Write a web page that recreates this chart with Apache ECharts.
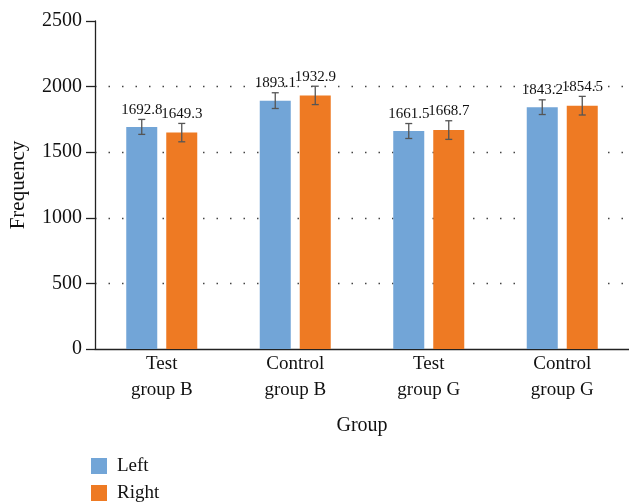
<!DOCTYPE html>
<html>
<head>
<meta charset="utf-8">
<script src="https://cdn.jsdelivr.net/npm/echarts@6/dist/echarts.min.js"></script>
<style>html,body{margin:0;padding:0;background:#fff}#c{width:629px;height:502px}</style>
</head>
<body>
<div id="c"></div>
<script>
const categories = ['Test\ngroup B', 'Control\ngroup B', 'Test\ngroup G', 'Control\ngroup G'];
const leftValues = [1692.8, 1893.1, 1661.5, 1843.2];
const rightValues = [1649.3, 1932.9, 1668.7, 1854.5];
const leftErr = [57, 60, 57, 56];
const rightErr = [70, 70, 71, 71];
const yTicks = [0, 500, 1000, 1500, 2000, 2500];

const FONT = 'Liberation Serif';
const BAR_W = 31;
const GAP = 9;
const BLUE = '#72a5d7';
const ORANGE = '#ee7a23';

function errSeries(values, errs, side) {
  return {
    type: 'custom',
    z: 10,
    clip: false,
    data: values.map((v, i) => [i, v, errs[i]]),
    renderItem: function (params, api) {
      const i = api.value(0), v = api.value(1), e = api.value(2);
      const c = api.coord([i, v]);
      const off = side * (BAR_W / 2 + GAP / 2);
      const x = c[0] + off;
      const yTop = api.coord([i, v + e])[1];
      const yBot = api.coord([i, v - e])[1];
      const cap = 3.5;
      const st = { stroke: '#555', lineWidth: 1.3 };
      return {
        type: 'group',
        children: [
          { type: 'line', shape: { x1: x, y1: yTop, x2: x, y2: yBot }, style: st },
          { type: 'line', shape: { x1: x - cap, y1: yTop, x2: x + cap, y2: yTop }, style: st },
          { type: 'line', shape: { x1: x - cap, y1: yBot, x2: x + cap, y2: yBot }, style: st },
          { type: 'text', style: { x: x, y: yTop - 2, text: v.toFixed(1), fill: '#111', font: '15px "' + FONT + '"', align: 'center', verticalAlign: 'bottom' } }
        ]
      };
    }
  };
}

const chart = echarts.init(document.getElementById('c'), null, { renderer: 'canvas' });
chart.setOption({
  animation: false,
  textStyle: { fontFamily: FONT },
  grid: { left: 92, right: -11, top: 21, bottom: 153, containLabel: false },
  legend: {
    data: ['Left', 'Right'],
    orient: 'vertical',
    left: 91, top: 455,
    height: 100,
    icon: 'rect', itemWidth: 16, itemHeight: 16, itemGap: 5,
    textStyle: { fontFamily: FONT, fontSize: 19, lineHeight: 22, color: '#111', padding: [0, 0, 0, 5] },
    padding: 0
  },
  xAxis: {
    type: 'category',
    data: categories,
    name: 'Group',
    nameLocation: 'middle',
    nameGap: 67,
    nameTextStyle: { fontFamily: FONT, fontSize: 20, color: '#111' },
    axisLine: { lineStyle: { color: '#222', width: 1.3 } },
    axisTick: { show: false },
    axisLabel: { fontFamily: FONT, fontSize: 19, color: '#111', lineHeight: 26, margin: 2 },
    splitLine: { show: false }
  },
  yAxis: {
    type: 'value',
    min: yTicks[0], max: yTicks[yTicks.length - 1], interval: 500,
    name: 'Frequency',
    nameLocation: 'middle',
    nameGap: 66,
    nameTextStyle: { fontFamily: FONT, fontSize: 21, color: '#111' },
    axisLine: { show: true, lineStyle: { color: '#222', width: 1.3 } },
    axisTick: { show: true, length: 9, lineStyle: { color: '#222', width: 1.3 } },
    axisLabel: { fontFamily: FONT, fontSize: 20, color: '#111', margin: 13, formatter: function (v) { return String(v); } },
    splitLine: { show: true, showMinLine: false, showMaxLine: false, lineStyle: { color: '#444', type: [1.5, 12], width: 1.3 } }
  },
  series: [
    { name: 'Left', type: 'bar', data: leftValues, barWidth: BAR_W, barGap: (GAP / BAR_W * 100) + '%', itemStyle: { color: BLUE } },
    { name: 'Right', type: 'bar', data: rightValues, barWidth: BAR_W, itemStyle: { color: ORANGE } },
    errSeries(leftValues, leftErr, -1),
    errSeries(rightValues, rightErr, 1)
  ]
});
</script>
</body>
</html>
